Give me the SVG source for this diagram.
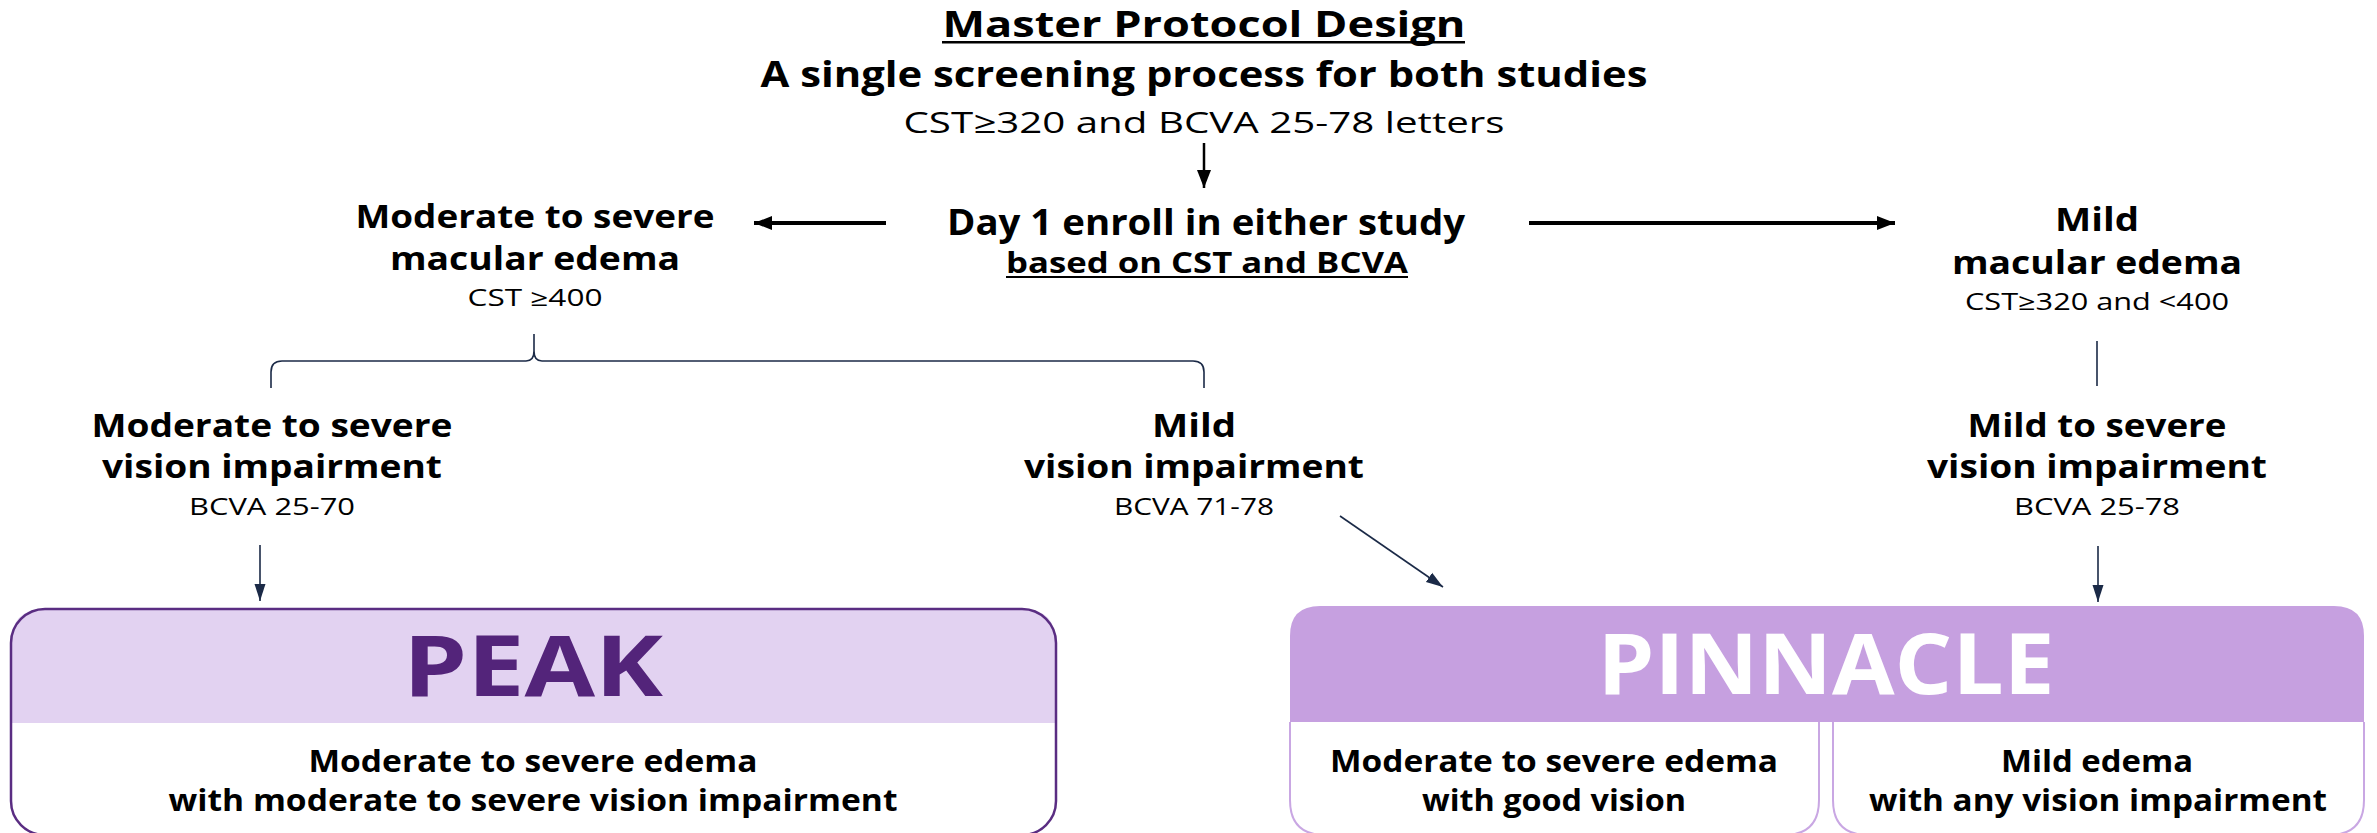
<svg xmlns="http://www.w3.org/2000/svg" width="2377" height="833" viewBox="0 0 2377 833">
<style>
text{font-family:"Open Sans","Liberation Sans",sans-serif;text-anchor:middle;fill:#000}
.t{font-weight:700;font-size:35px}
.b{font-weight:700;font-size:33px}
.r{font-weight:400;font-size:23px}
.big{font-weight:700;font-size:84px}
.k{stroke:#000;fill:none}
.n{stroke:#1B2A47;stroke-width:1.6;fill:none}
</style>
<defs>
<marker id="ak" markerUnits="userSpaceOnUse" markerWidth="20" markerHeight="16" refX="18" refY="8" orient="auto"><path d="M0,1 L18,8 L0,15 Z" fill="#000"/></marker>
<marker id="an" markerUnits="userSpaceOnUse" markerWidth="18" markerHeight="14" refX="17" refY="7" orient="auto"><path d="M0,1.5 L17,7 L0,12.5 Z" fill="#1B2A47"/></marker>
</defs>
<rect width="2377" height="833" fill="#fff"/>

<g id="header">
<text class="t" x="1204" y="37" textLength="523" lengthAdjust="spacingAndGlyphs">Master Protocol Design</text>
<rect x="942" y="41" width="523" height="2.5" fill="#000"/>
<text class="t" x="1204" y="87" textLength="887" lengthAdjust="spacingAndGlyphs">A single screening process for both studies</text>
<text x="1204" y="133" style="font-size:30px;font-weight:400" textLength="601" lengthAdjust="spacingAndGlyphs">CST≥320 and BCVA 25-78 letters</text>
</g>

<g id="enroll">
<text class="t" x="1206" y="235" textLength="518" lengthAdjust="spacingAndGlyphs">Day 1 enroll in either study</text>
<text x="1207" y="273" style="font-size:28px;font-weight:700" textLength="402" lengthAdjust="spacingAndGlyphs">based on CST and BCVA</text>
<rect x="1006" y="276" width="402" height="2" fill="#000"/>
</g>

<g id="mod-edema">
<text class="b" x="535" y="228" textLength="359" lengthAdjust="spacingAndGlyphs">Moderate to severe</text>
<text class="b" x="535" y="270" textLength="290" lengthAdjust="spacingAndGlyphs">macular edema</text>
<text class="r" x="535" y="306" textLength="135" lengthAdjust="spacingAndGlyphs">CST ≥400</text>
</g>

<g id="mild-edema">
<text class="b" x="2097" y="231" textLength="84" lengthAdjust="spacingAndGlyphs">Mild</text>
<text class="b" x="2097" y="274" textLength="290" lengthAdjust="spacingAndGlyphs">macular edema</text>
<text class="r" x="2097" y="310" textLength="264" lengthAdjust="spacingAndGlyphs">CST≥320 and &lt;400</text>
</g>

<g id="mod-vision">
<text class="b" x="272" y="437" textLength="361" lengthAdjust="spacingAndGlyphs">Moderate to severe</text>
<text class="b" x="272" y="478" textLength="340" lengthAdjust="spacingAndGlyphs">vision impairment</text>
<text class="r" x="272" y="515" textLength="166" lengthAdjust="spacingAndGlyphs">BCVA 25-70</text>
</g>

<g id="mild-vision">
<text class="b" x="1194" y="437" textLength="84" lengthAdjust="spacingAndGlyphs">Mild</text>
<text class="b" x="1194" y="478" textLength="340" lengthAdjust="spacingAndGlyphs">vision impairment</text>
<text class="r" x="1194" y="515" textLength="160" lengthAdjust="spacingAndGlyphs">BCVA 71-78</text>
</g>

<g id="mild-severe-vision">
<text class="b" x="2097" y="437" textLength="259" lengthAdjust="spacingAndGlyphs">Mild to severe</text>
<text class="b" x="2097" y="478" textLength="340" lengthAdjust="spacingAndGlyphs">vision impairment</text>
<text class="r" x="2097" y="515" textLength="166" lengthAdjust="spacingAndGlyphs">BCVA 25-78</text>
</g>

<g id="peak">
<path d="M11,723 L11,643 Q11,609 45,609 L1022,609 Q1056,609 1056,643 L1056,723 Z" fill="#E2D2F1"/>
<rect x="11" y="609" width="1045" height="226" rx="34" fill="none" stroke="#5A2D82" stroke-width="2.5"/>
<text class="big" x="533" y="696" style="fill:#53247A" textLength="260" lengthAdjust="spacingAndGlyphs">PEAK</text>
<text class="b" x="533" y="772" style="font-size:31px" textLength="449" lengthAdjust="spacingAndGlyphs">Moderate to severe edema</text>
<text class="b" x="533" y="811" style="font-size:31px" textLength="729" lengthAdjust="spacingAndGlyphs">with moderate to severe vision impairment</text>
</g>

<g id="pinnacle">
<path d="M1290,722 L1290,636 Q1290,606 1320,606 L2334,606 Q2364,606 2364,636 L2364,722 Z" fill="#C6A0E0"/>
<path d="M1290,722 L1290,800 Q1290,835 1325,835 L1784,835 Q1819,835 1819,800 L1819,722" fill="none" stroke="#C9A7E3" stroke-width="2"/>
<path d="M1833,722 L1833,800 Q1833,835 1868,835 L2329,835 Q2364,835 2364,800 L2364,722" fill="none" stroke="#C9A7E3" stroke-width="2"/>
<text class="big" x="1826" y="694" style="fill:#fff" textLength="457" lengthAdjust="spacingAndGlyphs">PINNACLE</text>
<text class="b" x="1554" y="772" style="font-size:31px" textLength="448" lengthAdjust="spacingAndGlyphs">Moderate to severe edema</text>
<text class="b" x="1554" y="811" style="font-size:31px" textLength="264" lengthAdjust="spacingAndGlyphs">with good vision</text>
<text class="b" x="2097" y="772" style="font-size:31px" textLength="192" lengthAdjust="spacingAndGlyphs">Mild edema</text>
<text class="b" x="2098" y="811" style="font-size:31px" textLength="458" lengthAdjust="spacingAndGlyphs">with any vision impairment</text>
</g>

<g id="connectors">
<line class="k" x1="1204" y1="143" x2="1204" y2="188" stroke-width="2.5" marker-end="url(#ak)"/>
<line class="k" x1="886" y1="223" x2="754" y2="223" stroke-width="4" marker-end="url(#ak)"/>
<line class="k" x1="1529" y1="223" x2="1895" y2="223" stroke-width="4" marker-end="url(#ak)"/>
<path class="n" d="M271,388 L271,372 Q271,361 282,361 L526,361 Q534,361 534,351 L534,334 M534,351 Q534,361 542,361 L1193,361 Q1204,361 1204,372 L1204,388"/>
<line class="n" x1="2097" y1="341" x2="2097" y2="386"/>
<line class="n" x1="260" y1="545" x2="260" y2="601" marker-end="url(#an)"/>
<line class="n" x1="1340" y1="516" x2="1443" y2="587" marker-end="url(#an)"/>
<line class="n" x1="2098" y1="546" x2="2098" y2="602" marker-end="url(#an)"/>
</g>
</svg>
